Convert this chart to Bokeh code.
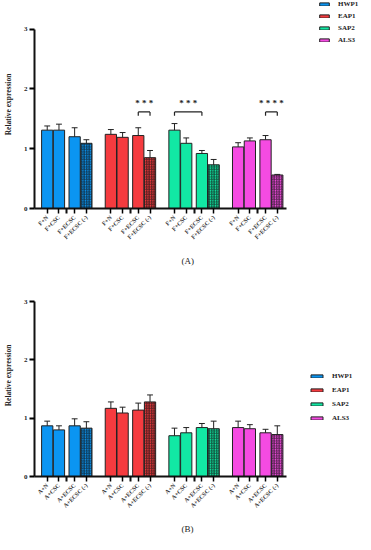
import math
from bokeh.plotting import figure
from bokeh.models import Range1d, FixedTicker, Legend, LegendItem, Title
from bokeh.layouts import column
from bokeh.embed import file_html
from bokeh.resources import INLINE
from bokeh.core.properties import value

# ---------------- data ----------------
genes = ["HWP1", "EAP1", "SAP2", "ALS3"]
gene_colors = ["#0B95F2", "#F53B3F", "#12E8A4", "#F54BE2"]

conds_A = ["F+N", "F+CSC", "F+ECSC", "F+ECSC (-)"]
conds_B = ["A+N", "A+CSC", "A+ECSC", "A+ECSC (-)"]

A_means = {
    "HWP1": [1.31, 1.31, 1.20, 1.09],
    "EAP1": [1.24, 1.19, 1.22, 0.85],
    "SAP2": [1.31, 1.09, 0.92, 0.73],
    "ALS3": [1.03, 1.13, 1.15, 0.56],
}
A_errs = {
    "HWP1": [0.07, 0.10, 0.15, 0.06],
    "EAP1": [0.08, 0.08, 0.13, 0.12],
    "SAP2": [0.11, 0.09, 0.05, 0.09],
    "ALS3": [0.07, 0.05, 0.07, 0.01],
}
B_means = {
    "HWP1": [0.87, 0.80, 0.87, 0.83],
    "EAP1": [1.17, 1.09, 1.14, 1.28],
    "SAP2": [0.70, 0.75, 0.84, 0.82],
    "ALS3": [0.84, 0.82, 0.75, 0.72],
}
B_errs = {
    "HWP1": [0.08, 0.07, 0.12, 0.11],
    "EAP1": [0.11, 0.10, 0.12, 0.12],
    "SAP2": [0.13, 0.09, 0.07, 0.13],
    "ALS3": [0.11, 0.07, 0.06, 0.15],
}
# (gene, first bar index, second bar index, stars)
A_sig = [("EAP1", 2, 3, "* * *"), ("SAP2", 0, 2, "* * *"), ("ALS3", 2, 3, "* * * *")]
y_ticks = [0, 1, 2, 3]

# ---------------- layout constants ----------------
FIG_W = 360
FIRST = 13
STEP = 65
OFFS = [0, 12, 28, 40]
BAR_W = 11.5
AXIS_END = 257
SERIF = "Liberation Serif"
DARK = "#222222"


def xpos(g, i):
    return FIRST + STEP * g + OFFS[i]


def make_panel(conds, means, errs, caption, height, top_border, frame_h, ppu, legend_loc,
               leg_spacing, glyph_w, cap_standoff, sig=None):
    ytop = frame_h / ppu
    p = figure(width=FIG_W, height=height, output_backend="svg", toolbar_location=None,
               x_range=Range1d(0, FIG_W - 27), y_range=Range1d(0, ytop),
               min_border_left=27, min_border_right=0, min_border_top=top_border,
               min_border_bottom=height - frame_h - top_border)
    p.outline_line_color = None
    p.xgrid.visible = False
    p.ygrid.visible = False

    items = []
    centers, labels, gaps = [], {}, []
    for g, gene in enumerate(genes):
        col = gene_colors[g]
        xs = [xpos(g, i) for i in range(4)]
        m = means[gene]
        e = errs[gene]
        for i in range(4):
            centers.append(xs[i])
            labels[xs[i]] = conds[i]
        gaps.append((xs[1] + xs[2]) / 2)
        solid = p.vbar(x=xs[:3], top=m[:3], width=BAR_W, bottom=0,
                       fill_color=col, line_color=DARK, line_width=1)
        p.vbar(x=xs[3:], top=m[3:], width=BAR_W, bottom=0,
               fill_color=col, line_color=DARK, line_width=1,
               hatch_pattern="/", hatch_color="#111111", hatch_alpha=0.7,
               hatch_scale=2.5, hatch_weight=1)
        up = [mm + ee for mm, ee in zip(m, e)]
        p.segment(x0=xs, y0=m, x1=xs, y1=up, line_color=DARK, line_width=1)
        p.segment(x0=[x - 3 for x in xs], y0=up, x1=[x + 3 for x in xs], y1=up,
                  line_color=DARK, line_width=1)
        items.append(LegendItem(label=gene, renderers=[solid]))

    if sig:
        ybr = 1.615
        ydrop = 1.55
        ystar = 1.77
        for gene, i0, i1, stars in sig:
            g = genes.index(gene)
            xa, xb = xpos(g, i0), xpos(g, i1)
            p.segment(x0=[xa, xa, xb], y0=[ybr, ydrop, ydrop], x1=[xb, xa, xb],
                      y1=[ybr, ybr, ybr], line_color=DARK, line_width=1.2)
            p.text(x=[(xa + xb) / 2], y=[ystar], text=[stars],
                   text_font=value(SERIF), text_font_size="9px", text_font_style="bold",
                   text_align="center", text_baseline="middle", text_color=DARK)

    # y axis
    ya = p.yaxis[0]
    ya.ticker = FixedTicker(ticks=y_ticks)
    ya.bounds = (0, 3)
    ya.axis_line_width = 2
    ya.axis_line_color = "#111111"
    ya.major_tick_in = 0
    ya.major_tick_out = 5
    ya.major_tick_line_width = 2
    ya.minor_tick_line_color = None
    ya.major_label_standoff = 2
    ya.major_label_text_font = SERIF
    ya.major_label_text_font_style = "bold"
    ya.major_label_text_font_size = "7px"
    ya.major_label_text_color = DARK
    ya.axis_label = "Relative expression"
    ya.axis_label_text_font = SERIF
    ya.axis_label_text_font_style = "bold"
    ya.axis_label_text_font_size = "7.5px"
    ya.axis_label_text_color = DARK
    ya.axis_label_standoff = 8

    # x axis
    xa_ = p.xaxis[0]
    xa_.ticker = FixedTicker(ticks=centers, minor_ticks=gaps)
    xa_.major_label_overrides = labels
    xa_.major_label_orientation = math.pi / 4
    xa_.bounds = (0, AXIS_END)
    xa_.axis_line_width = 2
    xa_.axis_line_color = "#111111"
    xa_.major_tick_in = 0
    xa_.major_tick_out = 5
    xa_.major_tick_line_width = 1.5
    xa_.minor_tick_in = 0
    xa_.minor_tick_out = 5
    xa_.minor_tick_line_width = 2
    xa_.minor_tick_line_color = "#111111"
    xa_.major_label_standoff = 3
    xa_.major_label_text_font = SERIF
    xa_.major_label_text_font_style = "bold"
    xa_.major_label_text_font_size = "6px"
    xa_.major_label_text_color = "#333333"

    legend = Legend(items=items, location=legend_loc, orientation="vertical",
                    glyph_width=glyph_w, glyph_height=4, label_height=8,
                    label_standoff=8, spacing=leg_spacing, padding=0, margin=0,
                    label_text_font=SERIF, label_text_font_style="bold",
                    label_text_font_size="7px", label_text_color=DARK,
                    border_line_color=None, background_fill_alpha=0)
    p.add_layout(legend)

    p.add_layout(Title(text=caption, align="left", offset=147, standoff=cap_standoff,
                       text_font=SERIF, text_font_size="9px", text_font_style="normal",
                       text_color=DARK), "below")
    return p


pA = make_panel(conds_A, A_means, A_errs, "(A)", height=274, top_border=0, frame_h=211,
                ppu=60.67, legend_loc=(284, 164), leg_spacing=4, glyph_w=12,
                cap_standoff=17, sig=A_sig)
pB = make_panel(conds_B, B_means, B_errs, "(B)", height=268, top_border=0, frame_h=207,
                ppu=59.7, legend_loc=(275, 54), leg_spacing=6, glyph_w=15,
                cap_standoff=17)

layout = column(pA, pB, spacing=0)
open("out.html", "w").write(file_html(layout, INLINE))
